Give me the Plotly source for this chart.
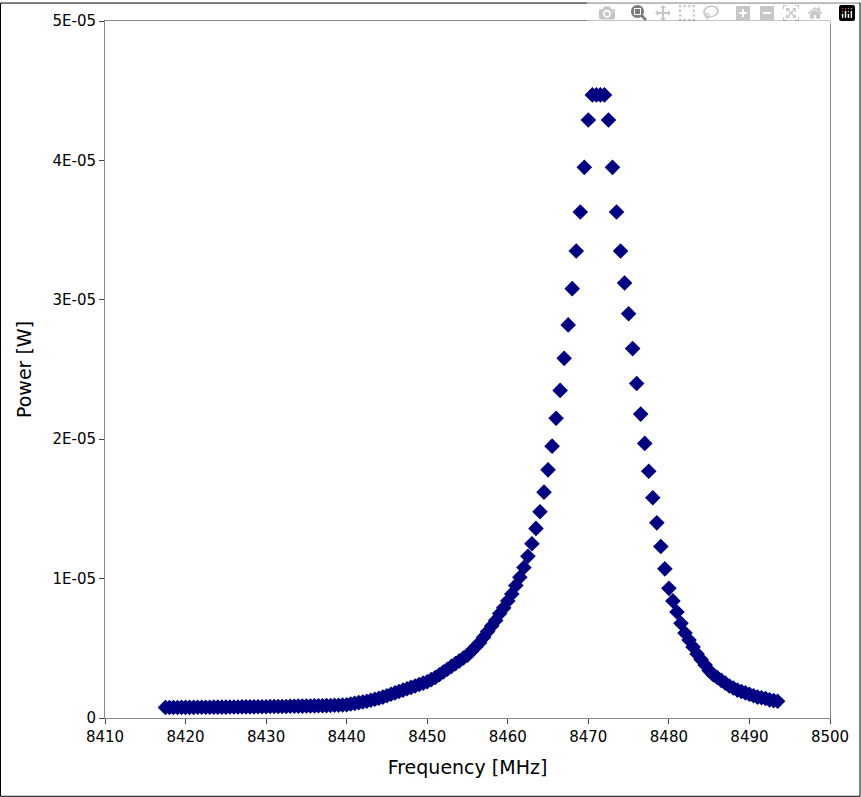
import plotly.graph_objects as go

seg1 = [0.75,0.75,0.75,0.75,0.76,0.76,0.76,0.76,0.77,0.77,0.77,0.77,0.78,0.78,0.78,0.78,0.79,0.79,0.79,0.80,0.80,0.80,0.80,0.81,0.81]
seg2 = [0.81,0.82,0.82,0.82,0.83,0.83,0.84,0.84,0.85,0.85,0.86,0.86,0.87,0.88,0.88,0.89,0.90,0.91,0.92,0.93]
seg3 = [0.95,1.0,1.05,1.1,1.15,1.2,1.27,1.34,1.42,1.5,1.6,1.7,1.8,1.9,2.0,2.1,2.2,2.3,2.4,2.5]
seg4 = [2.6,2.75,2.9,3.1,3.3,3.5,3.7,3.9,4.1,4.3,4.5,4.8,5.1,5.4,5.8,6.2,6.6,7.0,7.5,7.9]
seg5 = [8.4,8.9,9.5,10.1,10.8,11.6,12.5,13.6,14.8,16.2,17.8,19.5,21.5,23.5,25.8,28.2,
        30.8,33.5,36.3,39.5,42.9,44.7,44.7,44.7,44.7,42.9]
seg6 = [39.5,36.3,33.5,31.2,29.0,26.5,24.0,21.8,19.7,17.7,15.8,14.0,12.3,10.7,9.3,8.4,7.6,6.8,
        6.1,5.6,5.1,4.6,4.2,3.8,3.4,3.1,2.9,2.7,2.5,2.3,2.15,2.0,1.9,1.8,1.7,1.6,1.5,1.45,1.4,1.3,1.25,1.2]
power_uW = seg1 + seg2 + seg3 + seg4 + seg5 + seg6
start_mhz = 8417.5
step_mhz = 0.5
freq = [start_mhz + step_mhz * i for i in range(len(power_uW))]
power = [v * 1e-6 for v in power_uW]

ytick_vals = [0, 1e-5, 2e-5, 3e-5, 4e-5, 5e-5]
ytick_text = ["0", "1E-05", "2E-05", "3E-05", "4E-05", "5E-05"]

fig = go.Figure(go.Scatter(x=freq, y=power, mode="markers",
    marker=dict(symbol="diamond", size=12, color="#000080", line=dict(width=0))))

L, R, T, B = 105, 31, 19, 79
W, H = 861, 797
pw, ph = W - L - R, H - T - B
fig.update_layout(
    width=W, height=H, margin=dict(l=L, r=R, t=T, b=B),
    paper_bgcolor="white", plot_bgcolor="white", showlegend=False,
    font=dict(family="DejaVu Sans", size=15, color="black"),
    xaxis=dict(range=[8410, 8500], dtick=10, showgrid=False, zeroline=False,
               ticks="outside", ticklen=5, showline=True, linecolor="#888", mirror=True,
               title=dict(text="Frequency [MHz]", font=dict(size=19))),
    yaxis=dict(range=[0, 5e-5], tickvals=ytick_vals, ticktext=ytick_text, showgrid=False,
               zeroline=False, ticks="outside", ticklen=5, showline=True, linecolor="#888",
               mirror=True, title=dict(text="Power [W]", font=dict(size=19))),
    shapes=[dict(type="rect", xref="paper", yref="paper",
                 x0=-L/pw + 0.5/pw, x1=1 + (R - 1)/pw, y0=-B/ph + 0.5/ph, y1=1 + (T - 1)/ph,
                 line=dict(color="black", width=1))],
)
fig.write_html("out.html", post_script="document.body.style.margin='0';document.body.style.overflow='hidden';")
